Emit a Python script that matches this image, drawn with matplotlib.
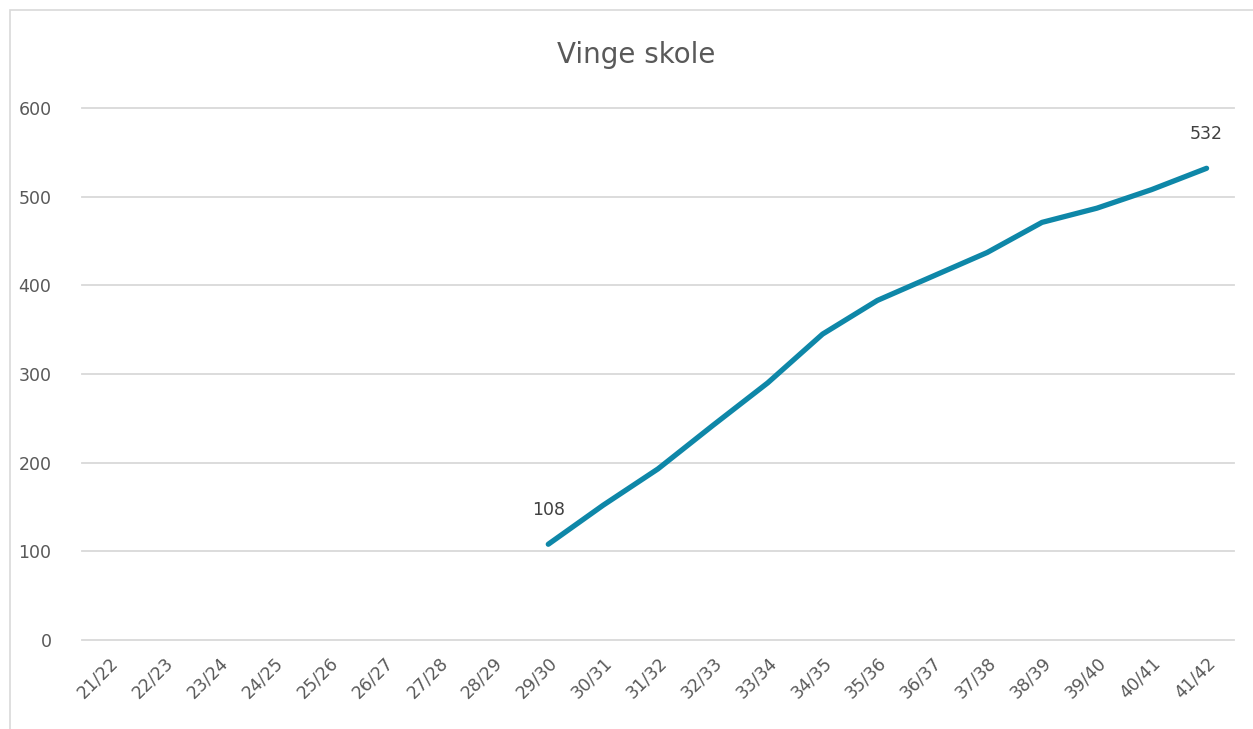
import matplotlib.pyplot as plt
from matplotlib.patches import Rectangle

# skoleår og elevtall
years = ['21/22', '22/23', '23/24', '24/25', '25/26', '26/27', '27/28', '28/29',
         '29/30', '30/31', '31/32', '32/33', '33/34', '34/35', '35/36', '36/37',
         '37/38', '38/39', '39/40', '40/41', '41/42']
elever = [None] * 8 + [108, 152, 193, 242, 290, 345, 383, 410, 437, 471, 487, 508, 532]
y_ticks = [0, 100, 200, 300, 400, 500, 600]

text_col = '#595959'
line_col = '#0E87A8'

fig = plt.figure(figsize=(12.53, 7.29), dpi=100)
fig.patch.set_facecolor('white')

# ramme rundt diagramområdet
fig.patches.append(Rectangle((10 / 1253, -0.1), 1.2, 1 - 10 / 729 + 0.1,
                             transform=fig.transFigure, fill=False,
                             edgecolor='#D9D9D9', linewidth=1.2))

ax = fig.add_axes([82 / 1253, 1 - 640 / 729, (1234 - 82) / 1253, (640 - 108) / 729])

x = list(range(len(years)))
xs = [i for i, v in zip(x, elever) if v is not None]
ys = [v for v in elever if v is not None]
ax.plot(xs, ys, color=line_col, linewidth=3.8, solid_capstyle='round', zorder=3)

# dataetiketter for første og siste punkt
for xi, yi in [(xs[0], ys[0]), (xs[-1], ys[-1])]:
    ax.annotate(str(yi), (xi, yi), xytext=(0, 25), textcoords='offset points',
                ha='center', va='center', fontsize=12.5, color='#404040')

ax.set_xlim(-0.5, len(years) - 0.5)
ax.set_ylim(0, 600)
ax.set_yticks(y_ticks)
ax.set_xticks(x)
ax.set_xticklabels(years, rotation=45, ha='right', rotation_mode='anchor')
ax.tick_params(axis='y', length=0, pad=22, labelsize=12.5, labelcolor=text_col)
ax.tick_params(axis='x', length=0, pad=10, labelsize=12.5, labelcolor=text_col)

ax.grid(axis='y', color='#D9D9D9', linewidth=1.3)
for gl in ax.get_ygridlines():
    gl.set_clip_on(False)
ax.set_axisbelow(True)
for s in ax.spines.values():
    s.set_visible(False)

fig.text((551 + 721) / 2 / 1253, 1 - 55 / 729, 'Vinge skole', ha='center', va='center',
         fontsize=20, color=text_col)

fig.savefig('out.png', dpi=100)
